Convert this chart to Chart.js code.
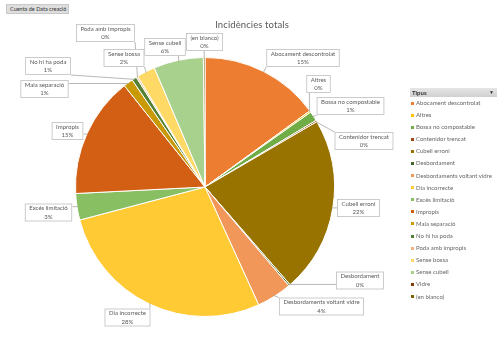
<!DOCTYPE html>
<html><head><meta charset="utf-8">
<script src="https://cdn.jsdelivr.net/npm/chart.js@4/dist/chart.umd.min.js"></script>
<style>
html,body{margin:0;padding:0;background:#fff;}
#wrap{position:relative;width:500px;height:344px;overflow:hidden;font-family:Lato,"Open Sans",sans-serif;}
#c{position:absolute;left:0;top:0;}
#btn{position:absolute;left:6px;top:4px;width:63px;height:10px;background:#dedede;border:1px solid #c9c9c9;font-size:5.5px;line-height:8px;color:#333;padding-left:3px;box-sizing:border-box;}
#title{position:absolute;left:0;width:504px;top:19px;text-align:center;font-size:9.5px;color:#595959;letter-spacing:0.1px;}
#legend{position:absolute;left:410px;top:88px;width:87px;font-size:6px;color:#666;}
#lhead{height:9px;background:linear-gradient(#e6e6e6,#d0d0d0);font-weight:bold;line-height:9px;padding-left:2px;color:#333;position:relative;}
#lhead span{position:absolute;right:3px;top:0;font-size:5px;}
.it{height:12.1px;line-height:12.1px;white-space:nowrap;position:relative;padding-left:6px;}
.it i{position:absolute;left:1px;top:4.5px;width:3px;height:3px;}
</style></head>
<body><div id="wrap">
<canvas id="c" width="500" height="344"></canvas>
<div id="btn">Cuenta de Data creació</div>
<div id="title">Incidències totals</div>
<div id="legend"><div id="lhead">Tipus<span>▼</span></div><div id="items"></div></div>
</div>
<script>
const categories = ["Abocament descontrolat","Altres","Bossa no compostable","Contenidor trencat","Cubell erroni","Desbordament","Desbordaments voltant vidre","Dia incorrecte","Excés limitació","Impropis","Mala separació","No hi ha poda","Poda amb impropis","Sense bossa","Sense cubell","Vidre","(en blanco)"];
const values = [15.0,0.2,1.2,0.2,22.0,0.2,4.4,27.7,3.3,15.1,1.2,0.6,0.2,2.3,6.2,0,0.2];
const colors = ["#ED7D31","#FFC000","#70AD47","#9E480E","#997300","#43682B","#F1975A","#FFCA33","#88BF62","#D35F14","#C99A06","#548235","#F4B183","#FFD966","#A9D18E","#843C0C","#7F6000"];
const seriesTitle = "Incidències totals";
// callout box centres (layout only)
const calloutAt = [[303,58],[318.5,84],[350.5,106],[364,141],[358.5,208],[360,280.5],[321.5,306.5],[127.5,317.5],[48.5,212.5],[67.5,131],[44.5,89],[48,66],[105.5,33],[124,58],[165,47],null,[204.5,42]];

const items=document.getElementById('items');
categories.forEach((c,i)=>{const d=document.createElement('div');d.className='it';d.innerHTML='<i style="background:'+colors[i]+'"></i>'+c;items.appendChild(d);});

const total=values.reduce((a,b)=>a+b,0);
const callouts={id:'callouts',afterDatasetsDraw(chart){
  const ctx=chart.ctx;const meta=chart.getDatasetMeta(0);
  ctx.save();ctx.font='6px Lato';ctx.textAlign='center';ctx.textBaseline='middle';
  meta.data.forEach((arc,i)=>{
    const pos=calloutAt[i];if(!pos)return;
    const p=arc.getProps(['x','y','startAngle','endAngle','outerRadius'],true);
    const mid=(p.startAngle+p.endAngle)/2;
    const ax=p.x+Math.cos(mid)*(p.outerRadius-1), ay=p.y+Math.sin(mid)*(p.outerRadius-1);
    const l1=categories[i], l2=Math.round(values[i]/total*100)+'%';
    const w=Math.max(ctx.measureText(l1).width,ctx.measureText(l2).width)+9, h=18;
    const l=pos[0]-w/2,t=pos[1]-h/2,r=l+w,b=t+h;
    const px=Math.min(Math.max(ax,l),r), py=Math.min(Math.max(ay,t),b);
    ctx.strokeStyle='#A6A6A6';ctx.lineWidth=0.8;
    ctx.beginPath();ctx.moveTo(ax,ay);ctx.lineTo(px,py);ctx.stroke();
    ctx.fillStyle='#fff';ctx.fillRect(l,t,w,h);
    ctx.strokeStyle='#BFBFBF';ctx.strokeRect(l+0.5,t+0.5,w-1,h-1);
    ctx.fillStyle='#595959';
    ctx.fillText(l1,pos[0],pos[1]-4);ctx.fillText(l2,pos[0],pos[1]+4.5);
  });
  ctx.restore();
}};

new Chart(document.getElementById('c'),{
  type:'pie',
  data:{labels:categories,datasets:[{label:seriesTitle,data:values,backgroundColor:colors,borderColor:'#fff',borderWidth:1}]},
  options:{responsive:false,animation:false,
    layout:{padding:{left:75,right:165,top:57,bottom:27}},
    plugins:{legend:{display:false},tooltip:{enabled:false}}},
  plugins:[callouts]
});
</script></body></html>
